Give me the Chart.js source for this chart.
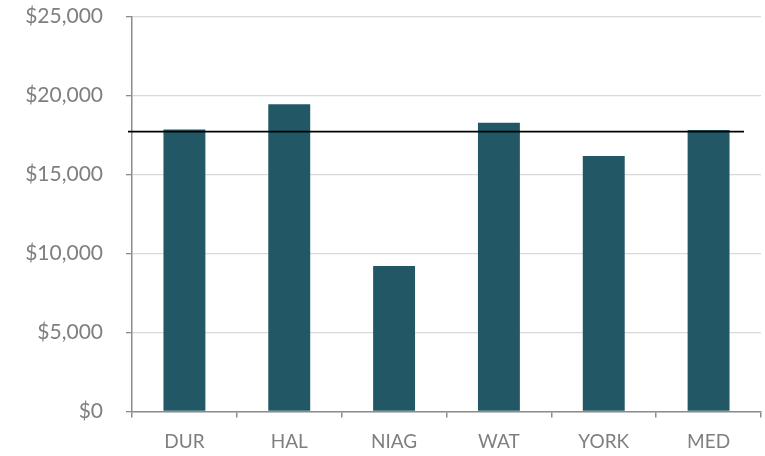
<!DOCTYPE html>
<html><head><meta charset="utf-8">
<script src="https://cdn.jsdelivr.net/npm/chart.js@4/dist/chart.umd.min.js"></script>
<style>html,body{margin:0;padding:0;background:#fff}#wrap{width:765px;height:456px}</style>
</head><body><div id="wrap"><canvas id="c" width="765" height="456"></canvas></div>
<script>
const categories = ["DUR", "HAL", "NIAG", "WAT", "YORK", "MED"];
const values = [17850, 19450, 9210, 18290, 16180, 17830];
const referenceValue = [17720];
const yTicks = [0, 5000, 10000, 15000, 20000, 25000];

const refLine = {
  id: 'refLine',
  afterDatasetsDraw(chart) {
    const {ctx, chartArea, scales} = chart;
    const y = scales.y.getPixelForValue(referenceValue[0]);
    ctx.save();
    ctx.strokeStyle = '#000';
    ctx.lineWidth = 1.6;
    ctx.beginPath();
    ctx.moveTo(chartArea.left - 4, y);
    ctx.lineTo(chartArea.right - 17, y);
    ctx.stroke();
    ctx.restore();
  }
};

new Chart(document.getElementById('c'), {
  type: 'bar',
  data: {
    labels: categories,
    datasets: [{
      data: values,
      backgroundColor: '#225866',
      borderWidth: 0,
      categoryPercentage: 1,
      barPercentage: 0.4
    }]
  },
  options: {
    responsive: false,
    animation: false,
    devicePixelRatio: 1,
    layout: {padding: {top: 0, right: 4, left: 0, bottom: 0}},
    plugins: {legend: {display: false}, tooltip: {enabled: false}},
    scales: {
      x: {
        afterFit(s) { s.height = 44.5; },
        grid: {display: true, drawOnChartArea: false, drawTicks: true, tickLength: 6, tickColor: '#8c8c8c', offset: true, lineWidth: 1.5},
        border: {display: true, color: '#8c8c8c', width: 1.5},
        ticks: {color: '#7f7f7f', font: {family: 'Lato', size: 19}, padding: 13}
      },
      y: {
        min: 0, max: 25000,
        afterFit(s) { s.width = 132; s.paddingTop = 16.7; },
        afterBuildTicks(s) { s.ticks = yTicks.map(v => ({value: v})); },
        grid: {color: '#d9d9d9', lineWidth: 1.3, drawTicks: true, tickLength: 6, tickColor: '#8c8c8c'},
        border: {display: true, color: '#8c8c8c', width: 1.5},
        ticks: {
          color: '#7f7f7f', font: {family: 'Lato', size: 21}, padding: 23,
          callback: v => '$' + v.toLocaleString('en-US')
        }
      }
    }
  },
  plugins: [refLine]
});
</script></body></html>
